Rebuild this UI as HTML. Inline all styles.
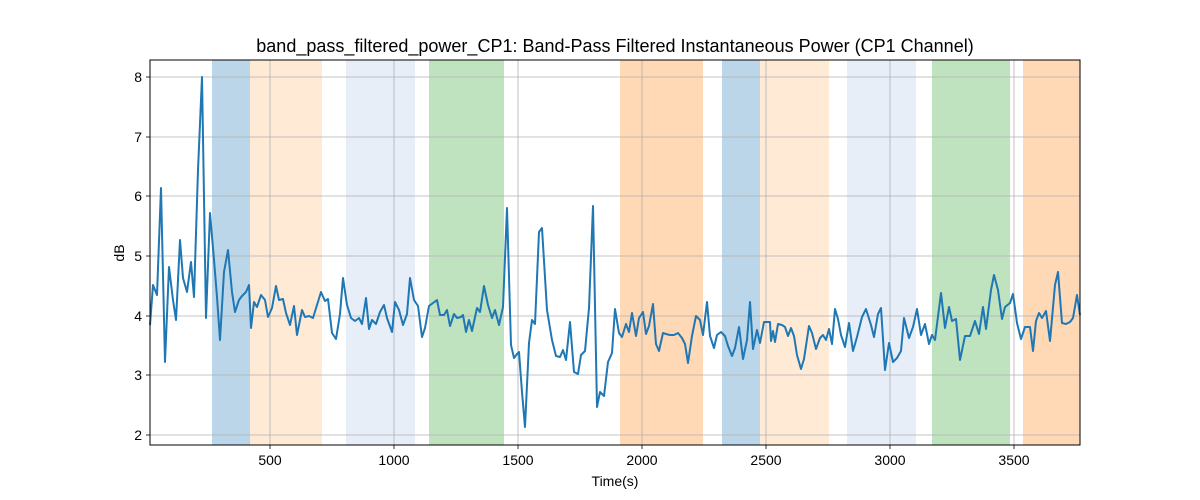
<!DOCTYPE html>
<html><head><meta charset="utf-8"><style>body{margin:0;background:#fff}svg{display:block;font-family:"Liberation Sans","DejaVu Sans",sans-serif}</style></head>
<body>
<svg width="1200" height="500" viewBox="0 0 1200 500" xmlns="http://www.w3.org/2000/svg">
<rect width="1200" height="500" fill="#fff"/>
<g>
<rect x="212" y="60" width="38" height="385" fill="#1f77b4" fill-opacity="0.3"/>
<rect x="250" y="60" width="72" height="385" fill="#ffbb78" fill-opacity="0.3"/>
<rect x="346" y="60" width="69" height="385" fill="#aec7e8" fill-opacity="0.3"/>
<rect x="429" y="60" width="75" height="385" fill="#2ca02c" fill-opacity="0.3"/>
<rect x="620" y="60" width="83" height="385" fill="#ff7f0e" fill-opacity="0.3"/>
<rect x="722" y="60" width="38" height="385" fill="#1f77b4" fill-opacity="0.3"/>
<rect x="760" y="60" width="69" height="385" fill="#ffbb78" fill-opacity="0.3"/>
<rect x="847" y="60" width="69" height="385" fill="#aec7e8" fill-opacity="0.3"/>
<rect x="932" y="60" width="78" height="385" fill="#2ca02c" fill-opacity="0.3"/>
<rect x="1023" y="60" width="57" height="385" fill="#ff7f0e" fill-opacity="0.3"/>
</g>
<g stroke="#b0b0b0" stroke-width="0.8">
<line x1="270" y1="60" x2="270" y2="445"/><line x1="394" y1="60" x2="394" y2="445"/><line x1="518" y1="60" x2="518" y2="445"/><line x1="642" y1="60" x2="642" y2="445"/><line x1="766" y1="60" x2="766" y2="445"/><line x1="890" y1="60" x2="890" y2="445"/><line x1="1014" y1="60" x2="1014" y2="445"/>
<line x1="150" y1="77" x2="1080" y2="77"/><line x1="150" y1="137" x2="1080" y2="137"/><line x1="150" y1="196" x2="1080" y2="196"/><line x1="150" y1="256" x2="1080" y2="256"/><line x1="150" y1="316" x2="1080" y2="316"/><line x1="150" y1="375" x2="1080" y2="375"/><line x1="150" y1="435" x2="1080" y2="435"/>
</g>
<polyline fill="none" stroke="#1f77b4" stroke-width="2" stroke-linejoin="round" points="150,325 153,285 157,295 161,188 165,362 169,267 173,300 176,320 180,240 183,278 187,292 191,262 194,297 198,170 202,77 206,318 210,213 214,260 217,297 220,340 224,272 228,250 232,292 235,312 239,300 242,296 246,292 249,285 251,328 254,302 257,307 261,295 265,300 268,317 272,308 276,286 279,300 283,299 286,313 290,325 294,306 297,335 302,310 305,317 309,316 313,318 317,305 321,292 325,301 328,299 332,333 336,339 340,314 343,278 347,305 351,318 355,321 359,318 362,324 366,298 369,329 372,320 376,324 380,312 384,305 387,318 392,332 395,302 399,310 403,325 407,314 410,278 414,300 418,306 422,337 425,328 429,306 433,303 437,300 440,315 444,315 447,310 450,326 454,314 457,318 461,317 463,315 466,332 469,320 472,331 477,308 480,312 484,286 488,305 492,318 495,310 499,325 503,307 507,208 511,345 514,358 517,354 519,352 522,392 525,427 529,343 532,320 535,324 539,232 542,228 547,310 552,340 556,356 560,357 563,350 566,360 570,322 574,372 578,374 581,355 585,351 589,308 593,206 597,407 600,392 604,396 608,362 612,353 615,309 619,333 622,337 626,324 629,332 632,313 636,336 639,318 643,312 646,334 649,326 653,304 656,344 659,351 663,333 666,334 670,335 674,335 678,333 682,338 685,344 688,363 692,336 696,316 700,320 703,335 707,302 710,336 714,348 717,335 721,332 725,336 728,346 732,356 735,348 739,327 743,359 747,340 750,302 753,349 757,330 760,343 764,322 770,322 771,341 773,331 775,342 778,324 782,325 785,327 788,336 791,328 794,336 797,355 801,369 804,359 809,326 812,333 816,349 820,338 823,335 826,340 829,329 832,344 835,309 838,319 841,335 845,347 849,323 853,351 857,337 862,317 866,309 871,325 874,337 878,314 881,308 885,370 889,343 893,362 897,358 901,351 904,318 909,338 913,327 917,309 921,335 925,324 929,344 932,335 935,340 941,293 945,328 949,307 952,321 956,319 960,360 965,336 970,336 975,321 979,334 983,307 986,329 991,290 994,275 998,290 1002,319 1005,307 1010,303 1013,294 1017,323 1021,339 1025,327 1030,327 1033,351 1036,321 1039,313 1042,318 1046,311 1050,341 1055,285 1058,272 1062,323 1066,324 1070,322 1073,318 1077,295 1080,315"/>
<rect x="150" y="60" width="930" height="385" fill="none" stroke="#000" stroke-width="1"/>
<g stroke="#000" stroke-width="0.8">
<line x1="270" y1="445" x2="270" y2="449"/><line x1="394" y1="445" x2="394" y2="449"/><line x1="518" y1="445" x2="518" y2="449"/><line x1="642" y1="445" x2="642" y2="449"/><line x1="766" y1="445" x2="766" y2="449"/><line x1="890" y1="445" x2="890" y2="449"/><line x1="1014" y1="445" x2="1014" y2="449"/>
<line x1="146" y1="77" x2="150" y2="77"/><line x1="146" y1="137" x2="150" y2="137"/><line x1="146" y1="196" x2="150" y2="196"/><line x1="146" y1="256" x2="150" y2="256"/><line x1="146" y1="316" x2="150" y2="316"/><line x1="146" y1="375" x2="150" y2="375"/><line x1="146" y1="435" x2="150" y2="435"/>
</g>
<g font-size="14" fill="#000" text-anchor="middle">
<text x="270" y="465">500</text><text x="394" y="465">1000</text><text x="518" y="465">1500</text><text x="642" y="465">2000</text><text x="766" y="465">2500</text><text x="890" y="465">3000</text><text x="1014" y="465">3500</text>
</g>
<g font-size="14" fill="#000" text-anchor="end">
<text x="142" y="82">8</text><text x="142" y="142">7</text><text x="142" y="201">6</text><text x="142" y="261">5</text><text x="142" y="321">4</text><text x="142" y="380">3</text><text x="142" y="440">2</text>
</g>
<text x="615" y="486" font-size="14" text-anchor="middle">Time(s)</text>
<text x="124" y="253" font-size="14" text-anchor="middle" transform="rotate(-90 124 253)">dB</text>
<text x="615" y="52" font-size="18" text-anchor="middle">band_pass_filtered_power_CP1: Band-Pass Filtered Instantaneous Power (CP1 Channel)</text>
</svg>
</body></html>
